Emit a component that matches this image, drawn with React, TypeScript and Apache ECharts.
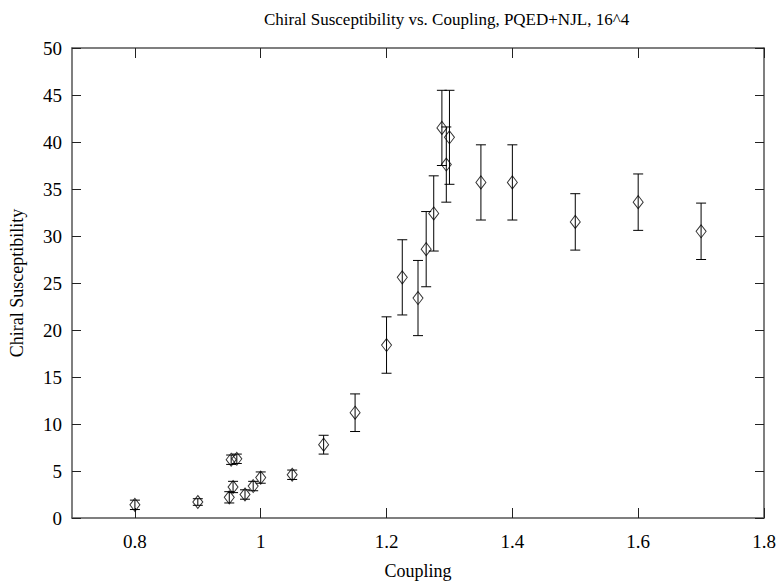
import React, { useEffect, useRef } from "react";
import * as echarts from "echarts";

const coupling = [0.8, 0.9, 0.95, 0.953, 0.956, 0.962, 0.975, 0.988, 1.0, 1.05, 1.1, 1.15, 1.2, 1.225, 1.25, 1.263, 1.275, 1.288, 1.295, 1.3, 1.35, 1.4, 1.5, 1.6, 1.7];
const susceptibility = [1.4, 1.7, 2.2, 6.2, 3.3, 6.3, 2.5, 3.4, 4.3, 4.6, 7.8, 11.2, 18.4, 25.6, 23.4, 28.6, 32.4, 41.5, 37.6, 40.5, 35.7, 35.7, 31.5, 33.6, 30.5];
const errors = [0.5, 0.35, 0.6, 0.5, 0.6, 0.5, 0.5, 0.5, 0.6, 0.5, 1.0, 2.0, 3.0, 4.0, 4.0, 4.0, 4.0, 4.0, 4.0, 5.0, 4.0, 4.0, 3.0, 3.0, 3.0];
const xTicks = [0.8, 1.0, 1.2, 1.4, 1.6, 1.8];

const FONT = "'Liberation Serif', 'DejaVu Serif', serif";
const AXIS_COLOR = "#555";

export default function App() {
  const ref = useRef<HTMLDivElement>(null);
  useEffect(() => {
    if (!ref.current) return;
    const chart = echarts.init(ref.current, undefined, { renderer: "svg" });
    const pts = coupling.map((x, i) => [x, susceptibility[i]]);
    const bars = coupling.map((x, i) => [x, susceptibility[i] - errors[i], susceptibility[i] + errors[i]]);
    const xBase = {
      type: "value",
      min: 0.7,
      max: 1.8,
      axisLine: { show: true, onZero: false, lineStyle: { color: AXIS_COLOR, width: 1.5 } },
      axisTick: { show: true, inside: true, length: 10, customValues: xTicks, lineStyle: { color: "#222" } },
      splitLine: { show: false },
    };
    const yBase = {
      type: "value",
      min: 0,
      max: 50,
      interval: 5,
      axisLine: { show: true, onZero: false, lineStyle: { color: AXIS_COLOR, width: 1.5 } },
      axisTick: { show: true, inside: true, length: 9, lineStyle: { color: "#222" } },
      splitLine: { show: false },
    };
    chart.setOption({
      animation: false,
      backgroundColor: "#fff",
      title: {
        text: "Chiral Susceptibility vs. Coupling, PQED+NJL, 16^4",
        left: 259,
        top: 6,
        textStyle: { fontFamily: FONT, fontSize: 17, fontWeight: "normal", color: "#000" },
      },
      grid: { left: 72, right: 15, top: 48, bottom: 67, containLabel: false },
      xAxis: [
        {
          ...xBase,
          position: "bottom",
          name: "Coupling",
          nameLocation: "middle",
          nameGap: 44,
          nameTextStyle: { fontFamily: FONT, fontSize: 18, color: "#000" },
          axisLabel: { show: true, customValues: xTicks, fontFamily: FONT, fontSize: 19, color: "#000", margin: 14 },
        },
        { ...xBase, position: "top", axisLabel: { show: false } },
      ],
      yAxis: [
        {
          ...yBase,
          position: "left",
          name: "Chiral Susceptibility",
          nameLocation: "middle",
          nameGap: 46,
          nameTextStyle: { fontFamily: FONT, fontSize: 18, color: "#000" },
          axisLabel: { show: true, fontFamily: FONT, fontSize: 19, color: "#000", margin: 10 },
        },
        { ...yBase, position: "right", axisLabel: { show: false } },
      ],
      series: [
        {
          type: "custom",
          xAxisIndex: 0,
          yAxisIndex: 0,
          data: bars,
          z: 1,
          renderItem: (params: any, api: any) => {
            const x = api.value(0);
            const lo = api.coord([x, api.value(1)]);
            const hi = api.coord([x, api.value(2)]);
            const hw = 5;
            const style = { stroke: "#000", lineWidth: 1 };
            return {
              type: "group",
              children: [
                { type: "line", shape: { x1: hi[0], y1: hi[1], x2: lo[0], y2: lo[1] }, style },
                { type: "line", shape: { x1: hi[0] - hw, y1: hi[1], x2: hi[0] + hw, y2: hi[1] }, style },
                { type: "line", shape: { x1: lo[0] - hw, y1: lo[1], x2: lo[0] + hw, y2: lo[1] }, style },
              ],
            };
          },
        },
        {
          type: "scatter",
          xAxisIndex: 0,
          yAxisIndex: 0,
          data: pts,
          z: 2,
          symbol: "diamond",
          symbolSize: [10, 13],
          itemStyle: { color: "rgba(255,255,255,0)", borderColor: "#000", borderWidth: 1 },
        },
      ],
    });
    return () => chart.dispose();
  }, []);
  return <div ref={ref} style={{ position: "fixed", left: 0, top: 0, width: 779, height: 585 }} />;
}
